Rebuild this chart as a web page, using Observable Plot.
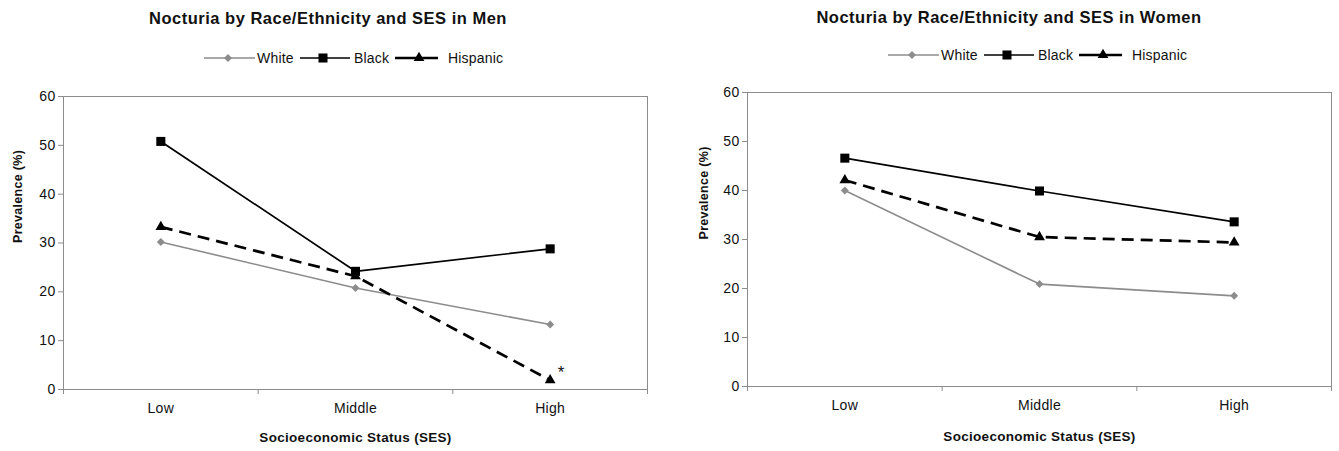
<!DOCTYPE html>
<html>
<head>
<meta charset="utf-8">
<script src="https://cdn.jsdelivr.net/npm/d3@7"></script>
<script src="https://cdn.jsdelivr.net/npm/@observablehq/plot@0.6"></script>
<style>
  body { margin: 0; background: #fff; }
  #root { position: relative; width: 1339px; height: 451px; overflow: hidden; font-family: "Liberation Sans", Arial, sans-serif; color: #111; }
  .title { position: absolute; transform: translate(-50%, -50%); font-weight: bold; font-size: 16.5px; letter-spacing: 0.5px; white-space: nowrap; }
  .legend { position: absolute; }
  .chart { position: absolute; top: 80px; }
</style>
</head>
<body>
<div id="root"></div>
<script>
const categories = ["Low", "Middle", "High"];
const seriesNames = ["White", "Black", "Hispanic"];
const yTicks = [0, 10, 20, 30, 40, 50, 60];

const menWhite = [30.2, 20.8, 13.3];
const menBlack = [50.8, 24.2, 28.8];
const menHispanic = [33.3, 23.2, 1.9];

const womenWhite = [40.0, 20.9, 18.5];
const womenBlack = [46.6, 39.9, 33.6];
const womenHispanic = [42.1, 30.5, 29.4];

const menTitle = "Nocturia by Race/Ethnicity and SES in Men";
const womenTitle = "Nocturia by Race/Ethnicity and SES in Women";
const yLabel = "Prevalence (%)";
const xLabel = "Socioeconomic Status (SES)";
const menNote = "*"; // marks Hispanic / High in men

const styles = {
  White: {stroke: "#8c8c8c", strokeWidth: 1.6, dash: null, symbol: "diamond2", r: 3.6, fill: "#8c8c8c"},
  Black: {stroke: "#000", strokeWidth: 1.7, dash: null, symbol: "square", r: 5.1, fill: "#000"},
  Hispanic: {stroke: "#000", strokeWidth: 2.7, dash: "12,7", symbol: "triangle", r: 4, fill: "#000"}
};

const FONT = '"Liberation Sans", Arial, sans-serif';
const GRAY = "#8c8c8c";
const root = document.getElementById("root");

function rows(values) {
  return values.map((v, i) => ({cat: categories[i], x: i + 0.5, y: v}));
}

function makeChart(opts) {
  const {left, width, mL, mT, mR, mB, data, yLabelDx, xLabelDy, note} = opts;
  const marks = [
    Plot.frame({stroke: GRAY, strokeWidth: 1}),
    Plot.axisY({ticks: yTicks, tickSize: 5, tickPadding: 3, stroke: GRAY, fill: "#111", label: null, fontSize: 14}),
    Plot.axisX({ticks: [0, 1, 2, 3], tickSize: 5, tickFormat: () => "", stroke: GRAY, label: null}),
    Plot.axisX({ticks: [0.5, 1.5, 2.5], tickSize: 0, tickPadding: 14, tickFormat: d => categories[Math.floor(d)], fill: "#111", label: null, fontSize: 14}),
    Plot.text([yLabel], {frameAnchor: "left", dx: yLabelDx, rotate: -90, fontWeight: "bold", fontSize: 12.5, fill: "#111", letterSpacing: "0.3px"}),
    Plot.text([xLabel], {frameAnchor: "bottom", dy: xLabelDy, fontWeight: "bold", fontSize: 13.5, fill: "#111", lineAnchor: "middle", letterSpacing: "0.8px"})
  ];
  for (const name of seriesNames) {
    const s = styles[name];
    const d = rows(data[name]);
    marks.push(Plot.line(d, {x: "x", y: "y", stroke: s.stroke, strokeWidth: s.strokeWidth, strokeDasharray: s.dash, strokeLinecap: "butt"}));
  }
  for (const name of seriesNames) {
    const s = styles[name];
    const d = rows(data[name]);
    marks.push(Plot.dot(d, {x: "x", y: "y", symbol: s.symbol, r: s.r, fill: s.fill, stroke: "none"}));
  }
  if (note) {
    const d = rows(data.Hispanic).slice(2);
    marks.push(Plot.text(d, {x: "x", y: "y", text: () => note, dx: 11, dy: -8, fontSize: 17, fill: "#111"}));
  }
  const chart = Plot.plot({
    width, height: 371,
    marginLeft: mL, marginTop: mT, marginRight: mR, marginBottom: mB,
    x: {type: "linear", domain: [0, 3], axis: null},
    y: {type: "linear", domain: [0, 60], axis: null},
    style: {fontFamily: FONT, fontSize: "14px", color: "#111", background: "white", letterSpacing: "0.3px", overflow: "visible"},
    marks
  });
  const wrap = document.createElement("div");
  wrap.className = "chart";
  wrap.style.left = left + "px";
  wrap.appendChild(chart);
  root.appendChild(wrap);
}

function addTitle(text, cx, cy) {
  const t = document.createElement("div");
  t.className = "title";
  t.textContent = text;
  t.style.left = cx + "px";
  t.style.top = cy + "px";
  root.appendChild(t);
}

function addLegend(x0, cy) {
  // layout offsets relative to legend start
  const items = [
    {name: "White", l0: 0, l1: 51, m: 24, t: 53},
    {name: "Black", l0: 96, l1: 146, m: 119, t: 150},
    {name: "Hispanic", l0: 191, l1: 234, m: 215, t: 244}
  ];
  const svg = d3.create("svg").attr("width", 320).attr("height", 24)
    .style("position", "absolute").style("left", x0 + "px").style("top", (cy - 12) + "px")
    .style("overflow", "visible");
  const symMap = {diamond2: d3.symbolDiamond2, square: d3.symbolSquare, triangle: d3.symbolTriangle};
  for (const it of items) {
    const s = styles[it.name];
    svg.append("line").attr("x1", it.l0).attr("x2", it.l1).attr("y1", 12).attr("y2", 12)
      .attr("stroke", s.stroke).attr("stroke-width", s.strokeWidth);
    svg.append("path").attr("transform", `translate(${it.m},12)`)
      .attr("d", d3.symbol(symMap[s.symbol], Math.PI * s.r * s.r)())
      .attr("fill", s.fill);
    svg.append("text").attr("x", it.t).attr("y", 12).attr("dy", "0.35em")
      .attr("font-family", FONT).attr("font-size", 14).attr("letter-spacing", "0.2px")
      .attr("fill", "#111").text(it.name);
  }
  root.appendChild(svg.node());
}

addTitle(menTitle, 328, 18);
addTitle(womenTitle, 1009, 17);
addLegend(204, 58);
addLegend(888, 55);

makeChart({
  left: 0, width: 669, mL: 63, mT: 16, mR: 22, mB: 62,
  data: {White: menWhite, Black: menBlack, Hispanic: menHispanic},
  yLabelDx: -46, xLabelDy: 48, note: menNote
});
makeChart({
  left: 670, width: 669, mL: 77, mT: 12, mR: 8, mB: 65,
  data: {White: womenWhite, Black: womenBlack, Hispanic: womenHispanic},
  yLabelDx: -44, xLabelDy: 50, note: null
});
</script>
</body>
</html>
